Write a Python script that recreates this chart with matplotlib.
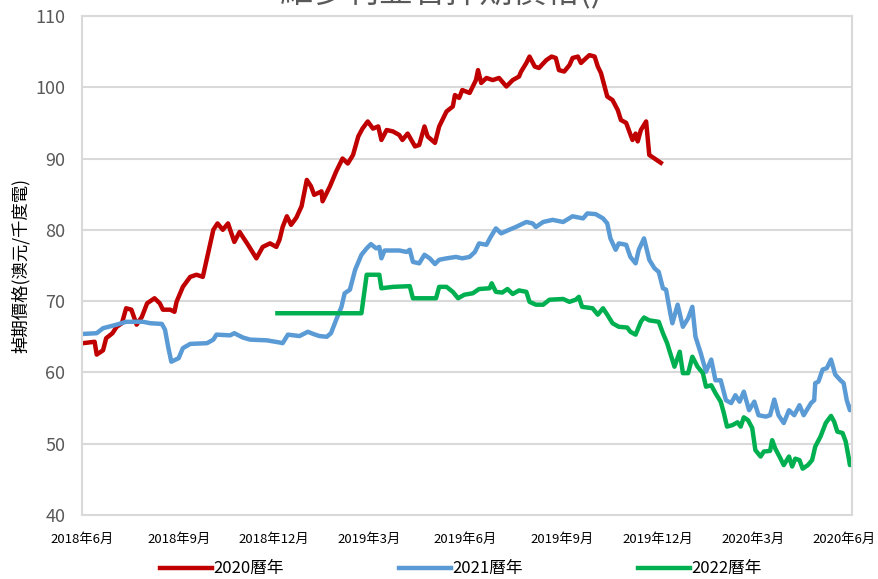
import matplotlib
matplotlib.use("Agg")
import matplotlib.pyplot as plt
import matplotlib.transforms as mtransforms
import pandas as pd

plt.rcParams['font.family'] = ['Noto Sans CJK TC', 'DejaVu Sans']

start = pd.Timestamp("2018-06-01")

# days after 2018-06-01
red_days = [1, 12, 14, 20, 23, 29, 33, 38, 42, 47, 52, 57, 62, 69, 74, 77, 84, 88, 90, 96,
            103, 109, 115, 120, 125, 129, 134, 139, 145, 150, 158, 166, 172, 179, 185, 188,
            191, 195, 199, 204, 209, 214, 218, 221, 228, 229, 236, 242, 248, 253, 258, 263,
            267, 272, 277, 282, 285, 290, 296, 302, 305, 310, 317, 321, 326, 329, 336, 340,
            347, 353, 355, 359, 362, 369, 375, 377, 380, 385, 391, 397, 404, 410, 416, 418,
            423, 426, 431, 435, 442, 447, 451, 454, 459, 464, 467, 472, 475, 480, 483, 488,
            491, 494, 500, 505, 510, 513, 518, 524, 527, 529, 532, 537, 540, 545, 551]
red_vals = [64.1, 64.3, 62.5, 63.1, 64.8, 65.5, 66.4, 66.9, 69.0, 68.8, 66.7, 67.8, 69.7, 70.4,
            69.7, 68.8, 68.8, 68.5, 69.9, 72.0, 73.4, 73.7, 73.4, 76.7, 80.0, 80.9, 80.0, 80.9,
            78.3, 79.7, 77.9, 76.0, 77.6, 78.1, 77.6, 78.6, 80.4, 81.9, 80.7, 81.7, 83.3, 87.0,
            86.1, 84.9, 85.4, 84.0, 86.1, 88.2, 90.0, 89.3, 90.5, 93.1, 94.2, 95.2, 94.2, 94.5,
            92.6, 94.0, 93.8, 93.3, 92.6, 93.5, 91.7, 91.9, 94.5, 93.1, 92.2, 94.5, 96.6, 97.3,
            98.9, 98.5, 99.6, 99.2, 101.0, 102.4, 100.6, 101.3, 101.0, 101.3, 100.1, 101.0,
            101.5, 102.2, 103.4, 104.3, 102.9, 102.7, 103.8, 104.3, 104.1, 102.4, 102.2, 103.1,
            104.1, 104.3, 103.4, 104.1, 104.5, 104.3, 102.9, 102.0, 98.7, 98.2, 96.8, 95.4,
            95.0, 92.6, 93.5, 92.4, 94.0, 95.2, 90.5, 90.0, 89.4]

blue_days = [1, 14, 20, 33, 42, 58, 65, 76, 79, 82, 85, 92, 96, 103, 119, 125, 128, 141, 145,
             153, 160, 176, 188, 191, 196, 207, 215, 220, 226, 233, 237, 242, 247, 250, 255,
             260, 266, 271, 275, 280, 283, 285, 288, 302, 309, 312, 315, 321, 326, 331, 336,
             340, 347, 356, 362, 369, 374, 378, 385, 389, 394, 399, 405, 413, 423, 429, 432,
             439, 448, 458, 467, 477, 481, 489, 496, 500, 503, 508, 511, 518, 522, 527, 530,
             535, 540, 545, 549, 553, 556, 560, 562, 567, 572, 577, 581, 584, 589, 594, 599,
             603, 608, 613, 618, 622, 626, 630, 635, 640, 644, 651, 655, 659, 663, 668, 673,
             678, 683, 687, 694, 697, 698, 701, 705, 709, 713, 717, 722, 725, 728, 731, 733]
blue_vals = [65.4, 65.5, 66.2, 66.7, 67.1, 67.1, 66.9, 66.8, 66.0, 63.6, 61.5, 62.0, 63.4, 64.0,
             64.1, 64.6, 65.3, 65.2, 65.5, 64.9, 64.6, 64.5, 64.2, 64.1, 65.3, 65.1, 65.7, 65.4,
             65.1, 65.0, 65.5, 67.4, 69.2, 71.1, 71.6, 74.4, 76.5, 77.4, 78.0, 77.4, 77.6, 76.0,
             77.1, 77.1, 76.9, 77.2, 75.5, 75.3, 76.5, 76.0, 75.2, 75.8, 76.0, 76.2, 76.0, 76.2,
             76.9, 78.1, 77.9, 79.0, 80.2, 79.5, 79.9, 80.4, 81.1, 80.9, 80.4, 81.1, 81.4, 81.1,
             81.9, 81.6, 82.3, 82.2, 81.6, 80.9, 78.8, 77.2, 78.1, 77.9, 76.2, 75.3, 77.2, 78.8,
             75.8, 74.6, 74.1, 71.8, 71.6, 68.3, 66.9, 69.5, 66.4, 67.6, 69.2, 65.0, 62.7, 60.1,
             61.8, 58.9, 58.9, 56.1, 55.7, 56.8, 55.9, 57.3, 54.7, 55.9, 54.0, 53.8, 54.0, 56.2,
             54.0, 52.9, 54.7, 54.0, 55.4, 54.0, 55.7, 56.1, 58.5, 58.7, 60.4, 60.6, 61.8, 59.7,
             58.9, 58.5, 56.1, 54.7, 55.2]

green_days = [186, 266, 271, 283, 285, 296, 312, 315, 337, 340, 347, 353, 358, 364, 372, 378,
              388, 390, 394, 400, 405, 410, 416, 423, 426, 432, 439, 445, 458, 464, 470, 473,
              476, 486, 491, 496, 500, 505, 511, 519, 522, 527, 532, 535, 540, 549, 553, 557,
              561, 564, 569, 572, 577, 581, 586, 591, 594, 599, 603, 608, 611, 614, 619, 624,
              627, 630, 634, 638, 641, 646, 649, 655, 657, 660, 665, 668, 673, 676, 679, 683,
              686, 691, 695, 698, 703, 708, 713, 716, 719, 724, 727, 730, 731, 733]
green_vals = [68.3, 68.3, 73.7, 73.7, 71.8, 72.0, 72.1, 70.4, 70.4, 72.0, 72.0, 71.3, 70.4, 70.9,
              71.1, 71.7, 71.8, 72.5, 71.3, 71.2, 71.7, 71.0, 71.5, 71.3, 69.9, 69.5, 69.5, 70.2,
              70.3, 69.9, 70.2, 70.6, 69.2, 69.0, 68.1, 69.0, 68.1, 66.9, 66.4, 66.3, 65.7, 65.3,
              67.1, 67.7, 67.3, 67.1, 65.5, 64.1, 62.2, 60.8, 62.9, 59.9, 59.9, 62.2, 60.8, 59.9,
              58.0, 58.2, 57.1, 55.9, 54.3, 52.4, 52.6, 53.0, 52.4, 53.7, 53.3, 52.2, 49.1, 48.2,
              48.9, 49.0, 50.5, 49.3, 47.9, 47.0, 48.2, 46.8, 47.9, 47.7, 46.5, 47.0, 47.7, 49.6,
              51.0, 52.9, 53.9, 53.1, 51.7, 51.5, 50.3, 47.9, 47.0, 47.7]

series_names = ["2020曆年", "2021曆年", "2022曆年"]
series_colors = ["#C00000", "#5B9BD5", "#00B050"]

tick_dates = pd.to_datetime(["2018-06-01", "2018-09-01", "2018-12-01", "2019-03-01",
                             "2019-06-01", "2019-09-01", "2019-12-01", "2020-03-01",
                             "2020-06-01"])
tick_labels = ["2018年6月", "2018年9月", "2018年12月", "2019年3月", "2019年6月",
               "2019年9月", "2019年12月", "2020年3月", "2020年6月"]


def to_dates(days):
    return start + pd.to_timedelta(days, unit="D")


fig = plt.figure(figsize=(8.79, 5.79), dpi=100)
ax = fig.add_axes([0.0933, 0.1105, 0.876, 0.862])

for d, v, name, c in zip([red_days, blue_days, green_days],
                         [red_vals, blue_vals, green_vals],
                         series_names, series_colors):
    ax.plot(to_dates(d), v, color=c, lw=3.2, label=name, solid_joinstyle="round")

ax.set_ylim(40, 110)
ax.set_yticks(range(40, 111, 10))
ax.set_xlim(start, start + pd.Timedelta(days=733))
ax.set_xticks(tick_dates)
ax.set_xticklabels(tick_labels, fontsize=9.5)
ax.grid(axis="y", color="#d9d9d9", lw=1.5)
ax.set_axisbelow(True)
for s in ax.spines.values():
    s.set_color("#d9d9d9")
    s.set_linewidth(1.5)
ax.tick_params(axis="both", length=0)
ax.tick_params(axis="y", labelsize=13, labelcolor="#595959", pad=12)
ax.tick_params(axis="x", pad=13)
ax.set_ylabel("掉期價格(澳元/千度電)", fontsize=12.5)
ax.yaxis.set_label_coords(-0.068, 0.5)

# the last date label sits a bit left so it stays inside the picture
last = ax.get_xticklabels()[-1]
last.set_transform(last.get_transform() + mtransforms.ScaledTranslation(-0.06, 0, fig.dpi_scale_trans))

fig.text(441 / 879, 1 - 9 / 579, "維多利亞省掉期價格()", fontsize=24, color="#595959",
         ha="center", va="bottom")

fig.legend(loc="center", bbox_to_anchor=(461 / 879, 1 - 569 / 579), ncol=3, frameon=False,
           fontsize=12, handlelength=3.1, handletextpad=0.1, columnspacing=6.9)

fig.savefig("out.png", dpi=100)
